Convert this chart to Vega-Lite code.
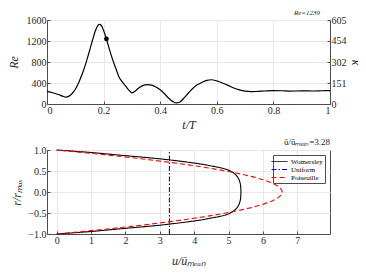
{
  "$schema": "https://vega.github.io/schema/vega-lite/v6.json",
  "padding": {"left": 6, "top": 8, "right": 5, "bottom": 3},
  "spacing": 6,
  "resolve": {"legend": {"color": "independent", "strokeDash": "independent"}},
  "config": {
    "font": "Liberation Serif",
    "view": {"stroke": "#4d4d4d", "strokeWidth": 1},
    "axis": {
      "labelFont": "Liberation Serif",
      "labelFontSize": 10,
      "labelColor": "#262626",
      "titleFont": "Liberation Serif",
      "titleFontSize": 12,
      "titleFontWeight": "normal",
      "titleFontStyle": "italic",
      "titleColor": "#262626",
      "domainColor": "#4d4d4d",
      "tickColor": "#4d4d4d",
      "tickSize": -3,
      "labelPadding": 4,
      "gridColor": "#e8e8e8",
      "grid": true
    },
    "legend": {
      "labelFont": "Liberation Serif"
    }
  },
  "datasets": {
    "re": [
      {"t": 0.0, "Re": 240}, {"t": 0.02, "Re": 215}, {"t": 0.04, "Re": 180}, {"t": 0.055, "Re": 150},
      {"t": 0.066, "Re": 130}, {"t": 0.078, "Re": 150}, {"t": 0.089, "Re": 200}, {"t": 0.1, "Re": 280},
      {"t": 0.113, "Re": 420}, {"t": 0.125, "Re": 580}, {"t": 0.137, "Re": 770}, {"t": 0.149, "Re": 990},
      {"t": 0.16, "Re": 1200}, {"t": 0.17, "Re": 1380}, {"t": 0.178, "Re": 1480}, {"t": 0.185, "Re": 1515},
      {"t": 0.192, "Re": 1495}, {"t": 0.2, "Re": 1400}, {"t": 0.21, "Re": 1239}, {"t": 0.22, "Re": 1050},
      {"t": 0.231, "Re": 860}, {"t": 0.243, "Re": 680}, {"t": 0.254, "Re": 520}, {"t": 0.266, "Re": 420},
      {"t": 0.278, "Re": 340}, {"t": 0.29, "Re": 260}, {"t": 0.3, "Re": 212}, {"t": 0.31, "Re": 240},
      {"t": 0.325, "Re": 310}, {"t": 0.34, "Re": 355}, {"t": 0.355, "Re": 370}, {"t": 0.37, "Re": 360},
      {"t": 0.385, "Re": 325}, {"t": 0.4, "Re": 270}, {"t": 0.415, "Re": 195}, {"t": 0.43, "Re": 110},
      {"t": 0.445, "Re": 45}, {"t": 0.457, "Re": 20}, {"t": 0.47, "Re": 40}, {"t": 0.485, "Re": 120},
      {"t": 0.5, "Re": 210}, {"t": 0.515, "Re": 295}, {"t": 0.53, "Re": 360}, {"t": 0.548, "Re": 415},
      {"t": 0.565, "Re": 450}, {"t": 0.58, "Re": 462}, {"t": 0.6, "Re": 440}, {"t": 0.62, "Re": 400},
      {"t": 0.64, "Re": 355}, {"t": 0.66, "Re": 305}, {"t": 0.68, "Re": 268}, {"t": 0.7, "Re": 245},
      {"t": 0.72, "Re": 236}, {"t": 0.74, "Re": 238}, {"t": 0.77, "Re": 248}, {"t": 0.8, "Re": 255},
      {"t": 0.83, "Re": 252}, {"t": 0.86, "Re": 246}, {"t": 0.9, "Re": 250}, {"t": 0.94, "Re": 248},
      {"t": 0.97, "Re": 252}, {"t": 1.0, "Re": 256}
    ],
    "marker": [{"t": 0.21, "Re": 1239}],
    "note": [{"t": 0.965, "Re": 1600, "label": "Re=1239"}],
    "kappa": [{"t": 0, "kappa": 0}, {"t": 1, "kappa": 605}],
    "profiles": [
      {"series": "Womersley", "r": -1.0, "u": 0},
      {"series": "Womersley", "r": -0.94, "u": 1},
      {"series": "Womersley", "r": -0.865, "u": 2},
      {"series": "Womersley", "r": -0.79, "u": 3},
      {"series": "Womersley", "r": -0.69, "u": 4},
      {"series": "Womersley", "r": -0.62, "u": 4.5},
      {"series": "Womersley", "r": -0.57, "u": 4.8},
      {"series": "Womersley", "r": -0.52, "u": 5.0},
      {"series": "Womersley", "r": -0.45, "u": 5.15},
      {"series": "Womersley", "r": -0.38, "u": 5.24},
      {"series": "Womersley", "r": -0.3, "u": 5.3},
      {"series": "Womersley", "r": -0.2, "u": 5.34},
      {"series": "Womersley", "r": -0.1, "u": 5.355},
      {"series": "Womersley", "r": 0.0, "u": 5.36},
      {"series": "Womersley", "r": 0.1, "u": 5.355},
      {"series": "Womersley", "r": 0.2, "u": 5.34},
      {"series": "Womersley", "r": 0.3, "u": 5.3},
      {"series": "Womersley", "r": 0.38, "u": 5.24},
      {"series": "Womersley", "r": 0.45, "u": 5.15},
      {"series": "Womersley", "r": 0.52, "u": 5.0},
      {"series": "Womersley", "r": 0.57, "u": 4.8},
      {"series": "Womersley", "r": 0.62, "u": 4.5},
      {"series": "Womersley", "r": 0.69, "u": 4},
      {"series": "Womersley", "r": 0.79, "u": 3},
      {"series": "Womersley", "r": 0.865, "u": 2},
      {"series": "Womersley", "r": 0.94, "u": 1},
      {"series": "Womersley", "r": 1.0, "u": 0},
      {"series": "Uniform", "r": -1.0, "u": 3.28},
      {"series": "Uniform", "r": 1.0, "u": 3.28},
      {"series": "Poiseuille", "r": -1.0, "u": 0},
      {"series": "Poiseuille", "r": -0.9, "u": 1.246},
      {"series": "Poiseuille", "r": -0.8, "u": 2.362},
      {"series": "Poiseuille", "r": -0.7, "u": 3.346},
      {"series": "Poiseuille", "r": -0.6, "u": 4.198},
      {"series": "Poiseuille", "r": -0.5, "u": 4.92},
      {"series": "Poiseuille", "r": -0.4, "u": 5.51},
      {"series": "Poiseuille", "r": -0.3, "u": 5.97},
      {"series": "Poiseuille", "r": -0.2, "u": 6.298},
      {"series": "Poiseuille", "r": -0.1, "u": 6.494},
      {"series": "Poiseuille", "r": 0.0, "u": 6.56},
      {"series": "Poiseuille", "r": 0.1, "u": 6.494},
      {"series": "Poiseuille", "r": 0.2, "u": 6.298},
      {"series": "Poiseuille", "r": 0.3, "u": 5.97},
      {"series": "Poiseuille", "r": 0.4, "u": 5.51},
      {"series": "Poiseuille", "r": 0.5, "u": 4.92},
      {"series": "Poiseuille", "r": 0.6, "u": 4.198},
      {"series": "Poiseuille", "r": 0.7, "u": 3.346},
      {"series": "Poiseuille", "r": 0.8, "u": 2.362},
      {"series": "Poiseuille", "r": 0.9, "u": 1.246},
      {"series": "Poiseuille", "r": 1.0, "u": 0}
    ]
  },
  "vconcat": [
    {
      "width": 283,
      "height": 84,
      "layer": [
        {
          "encoding": {
            "x": {"field": "t", "type": "quantitative", "scale": {"domain": [0, 1], "nice": false}, "axis": {"values": [0, 0.2, 0.4, 0.6, 0.8, 1], "format": "~g", "title": "t/T", "titlePadding": 4}},
            "y": {"field": "Re", "type": "quantitative", "scale": {"domain": [0, 1600], "nice": false}, "axis": {"values": [0, 400, 800, 1200, 1600], "format": "d", "title": "Re", "titlePadding": 6}}
          },
          "layer": [
            {"data": {"name": "re"}, "mark": {"type": "line", "color": "black", "strokeWidth": 1.2, "interpolate": "monotone"}},
            {"data": {"name": "marker"}, "mark": {"type": "point", "filled": true, "color": "black", "size": 22, "opacity": 1}},
            {"data": {"name": "note"}, "mark": {"type": "text", "align": "right", "baseline": "bottom", "dy": -4, "fontSize": 7, "fontStyle": "italic", "font": "Liberation Serif", "color": "#262626"}, "encoding": {"text": {"field": "label"}}}
          ]
        },
        {
          "data": {"name": "kappa"},
          "mark": {"type": "point", "opacity": 0},
          "encoding": {
            "x": {"field": "t", "type": "quantitative", "scale": {"domain": [0, 1], "nice": false}},
            "y": {"field": "kappa", "type": "quantitative", "scale": {"domain": [0, 605], "nice": false}, "axis": {"orient": "right", "values": [0, 151, 302, 454, 605], "format": "d", "grid": false, "title": "κ", "titlePadding": 2}}
          }
        }
      ],
      "resolve": {"scale": {"y": "independent"}}
    },
    {
      "width": 283,
      "height": 84,
      "title": {"text": "ū/ūₘₑₐₙ=3.28", "anchor": "end", "frame": "group", "fontSize": 9, "fontWeight": "normal", "font": "Liberation Serif", "color": "#262626", "offset": -2},
      "data": {"name": "profiles"},
      "mark": {"type": "line", "strokeWidth": 1.1, "interpolate": "cardinal"},
      "encoding": {
        "x": {"field": "u", "type": "quantitative", "scale": {"domain": [-0.28, 7.95], "nice": false, "zero": false}, "axis": {"values": [0, 1, 2, 3, 4, 5, 6, 7], "title": "u/ūₘₑₐₙ", "titlePadding": 10}},
        "y": {"field": "r", "type": "quantitative", "scale": {"domain": [-1, 1], "nice": false}, "axis": {"values": [-1, -0.5, 0, 0.5, 1], "format": ".1f", "title": "r/rₘₐₓ", "titlePadding": 4}},
        "order": {"field": "r", "type": "quantitative"},
        "color": {"field": "series", "type": "nominal", "scale": {"domain": ["Womersley", "Uniform", "Poiseuille"], "range": ["black", "#0000ff", "#ff0000"]}, "legend": {"title": null, "orient": "top-right", "offset": 5, "symbolType": "M-2,0H2", "symbolSize": 64, "symbolStrokeWidth": 1, "labelFontSize": 7, "rowPadding": -1, "padding": 2, "labelOffset": 7, "strokeColor": "#4d4d4d", "fillColor": "white", "cornerRadius": 0}},
        "strokeDash": {"field": "series", "type": "nominal", "scale": {"domain": ["Womersley", "Uniform", "Poiseuille"], "range": [[1, 0], [5, 2, 1.5, 2], [5, 3]]}, "legend": {"title": null, "orient": "top-right", "offset": 5, "symbolType": "M-2,0H2", "symbolSize": 64, "symbolStrokeWidth": 1, "labelFontSize": 7, "rowPadding": -1, "padding": 2, "labelOffset": 7, "strokeColor": "#4d4d4d", "fillColor": "white", "cornerRadius": 0}}
      }
    }
  ]
}
